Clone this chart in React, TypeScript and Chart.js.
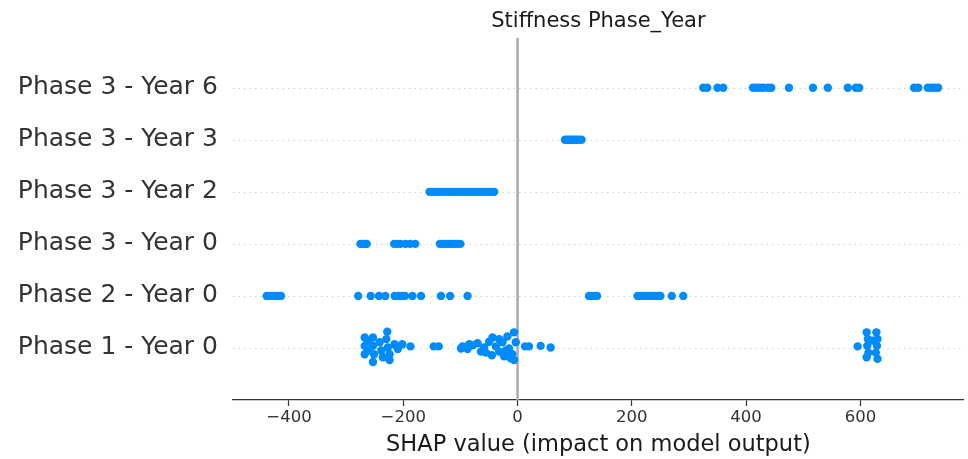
import { useEffect, useRef } from "react";
import { Chart, registerables } from "chart.js";

Chart.register(...registerables);

// Feature rows, bottom (index 0) to top
const features = [
  "Phase 1 - Year 0",
  "Phase 2 - Year 0",
  "Phase 3 - Year 0",
  "Phase 3 - Year 2",
  "Phase 3 - Year 3",
  "Phase 3 - Year 6",
];

// SHAP values per row; Phase 1 - Year 0 also carries beeswarm offsets
const phase1Year0Shap = [
  -267.5, -267.5, -267.5, -261.8, -261.8, -253.1, -253.1, -251.3, -253.1,
  -241.4, -238.4, -235.6, -228, -229.7, -226.9, -224, -224, -215.3, -209.5,
  -201.8, -187.4, -146.7, -138,
  -99, -96.2, -87.5, -84.5, -78.8, -70.1, -64.1, -58.4, -55.4, -49.7, -43.9,
  -45, -38, -32.2, -32.2, -26.5, -23.5, -20.6, -17.8, -14.8, -11.9, -9.1,
  -6.1, -6.1, -3.1, 13.1, 20, 40.4, 57.9,
  595.2, 611, 613, 612, 614, 611, 621.3, 628, 630, 629, 627, 630,
];
const phase1Year0Jitter = [
  0.2, 0.04, -0.12, 0.14, -0.05, 0.2, 0.04, -0.12, -0.27,
  0.11, -0.05, -0.18, 0.31, 0.17, 0.01, -0.23, -0.12, 0.07, -0.02,
  0.07, 0.03, 0.03, 0.03,
  -0.01, 0.03, -0.02, 0.07, 0.05, 0.09, -0.07, 0.01, -0.09, 0.12, 0.2,
  -0.14, 0.03, -0.07, 0.17, 0.11, -0.16, -0.05, 0.22, -0.01, -0.2, -0.12,
  0.3, -0.23, 0.11, 0.03, 0.03, 0.04, 0.01,
  0.03, 0.3, 0.17, 0.04, -0.09, -0.18, 0.14, 0.3, 0.17, 0.04, -0.09, -0.21,
];
const phase2Year0Shap = [
  -439, -434, -429, -424, -419, -414, -279, -257, -242.5, -231.5, -215, -209,
  -203, -197, -184, -169, -134, -118, -87.5, 125, 130, 135, 139, 210, 215, 220,
  225, 230, 235, 240, 245, 250, 270, 290,
];
const phase3Year0Shap = [
  -275, -271, -267, -264, -216, -211, -205, -196, -188, -179, -136, -131, -126,
  -121, -116, -111, -106, -100,
];
const phase3Year2Shap = [
  -154, -149, -144, -139, -134, -128, -122, -116, -111, -106, -101, -96, -91,
  -86, -81, -76, -71, -66, -61, -56, -51, -46, -41,
];
const phase3Year3Shap = [83, 87, 91, 95, 99, 103, 107, 112];
const phase3Year6Shap = [
  325, 332, 350, 360, 412, 418, 424, 430, 438, 444, 475, 517, 543, 578, 592,
  598, 694, 701.5, 718, 724, 730, 736,
];

const xTicks = [-400, -200, 0, 200, 400, 600];
const xMin = -498;
const xMax = 781;

const rowValues = [
  phase1Year0Shap,
  phase2Year0Shap,
  phase3Year0Shap,
  phase3Year2Shap,
  phase3Year3Shap,
  phase3Year6Shap,
];

const FONT = "'DejaVu Sans', sans-serif";

// Dotted row guides and the gray zero line, drawn under the points
const guides = {
  id: "shapGuides",
  beforeDatasetsDraw(chart: any) {
    const { ctx, chartArea, scales } = chart;
    const x = scales.x;
    const y = scales.y;
    ctx.save();
    ctx.strokeStyle = "#d0d0d0";
    ctx.lineWidth = 1.2;
    ctx.setLineDash([1.5, 4]);
    features.forEach((_, i) => {
      const py = Math.round(y.getPixelForValue(i)) + 0.5;
      ctx.beginPath();
      ctx.moveTo(chartArea.left, py);
      ctx.lineTo(chartArea.right, py);
      ctx.stroke();
    });
    ctx.setLineDash([]);
    ctx.strokeStyle = "#ababab";
    ctx.lineWidth = 2.5;
    const px = x.getPixelForValue(0);
    ctx.beginPath();
    ctx.moveTo(px, chartArea.top + 2);
    ctx.lineTo(px, chartArea.bottom);
    ctx.stroke();
    ctx.restore();
  },
};

export default function App() {
  const canvasRef = useRef<HTMLCanvasElement | null>(null);

  useEffect(() => {
    document.body.style.margin = "0";
    const canvas = canvasRef.current;
    if (!canvas) return;

    const points: { x: number; y: number }[] = [];
    rowValues.forEach((vals, row) => {
      vals.forEach((v, j) => {
        const offset = row === 0 ? phase1Year0Jitter[j] : 0;
        points.push({ x: v, y: row + offset });
      });
    });

    const chart = new Chart(canvas, {
      type: "scatter",
      data: {
        datasets: [
          {
            data: points,
            backgroundColor: "#008bfb",
            borderWidth: 0,
            pointRadius: 4.2,
            pointHoverRadius: 4.2,
          },
        ],
      },
      plugins: [guides],
      options: {
        animation: false,
        responsive: false,
        devicePixelRatio: 1,
        layout: { padding: { left: 0, right: 2, top: 0, bottom: 0 } },
        plugins: {
          legend: { display: false },
          tooltip: { enabled: false },
          title: {
            display: true,
            text: "Stiffness Phase_Year",
            fullSize: false,
            color: "#1a1a1a",
            font: { family: FONT, size: 21, weight: "normal" },
            padding: { top: 9, bottom: 1.5 },
          },
        },
        scales: {
          x: {
            type: "linear",
            min: xMin,
            max: xMax,
            afterBuildTicks: (scale: any) => {
              scale.ticks = xTicks.map((v) => ({ value: v }));
            },
            afterFit: (scale: any) => {
              scale.height = 59;
            },
            ticks: {
              color: "#333333",
              font: { family: FONT, size: 16.5 },
              padding: 2,
              maxRotation: 0,
              callback: (v: any) => String(v).replace("-", "\u2212"),
            },
            grid: {
              drawOnChartArea: false,
              color: "rgba(0,0,0,0)",
              tickColor: "#333333",
              tickLength: 6,
              tickWidth: 1.2,
            },
            border: { display: true, color: "#333333", width: 1.3 },
            title: {
              display: true,
              text: "SHAP value (impact on model output)",
              color: "#1a1a1a",
              font: { family: FONT, size: 22.5 },
              padding: { top: 0, bottom: 0 },
            },
          },
          y: {
            type: "linear",
            min: -1,
            max: 6,
            afterBuildTicks: (scale: any) => {
              scale.ticks = features.map((_, i) => ({ value: i }));
            },
            afterFit: (scale: any) => {
              scale.width = 233;
            },
            ticks: {
              color: "#333333",
              font: { family: FONT, size: 25 },
              padding: 15,
              callback: (v: any) => features[v as number] ?? "",
            },
            grid: { display: false, drawTicks: false },
            border: { display: false },
          },
        },
      },
    });

    return () => chart.destroy();
  }, []);

  return (
    <div style={{ width: 968, height: 459 }}>
      <canvas ref={canvasRef} width={968} height={459} />
    </div>
  );
}
